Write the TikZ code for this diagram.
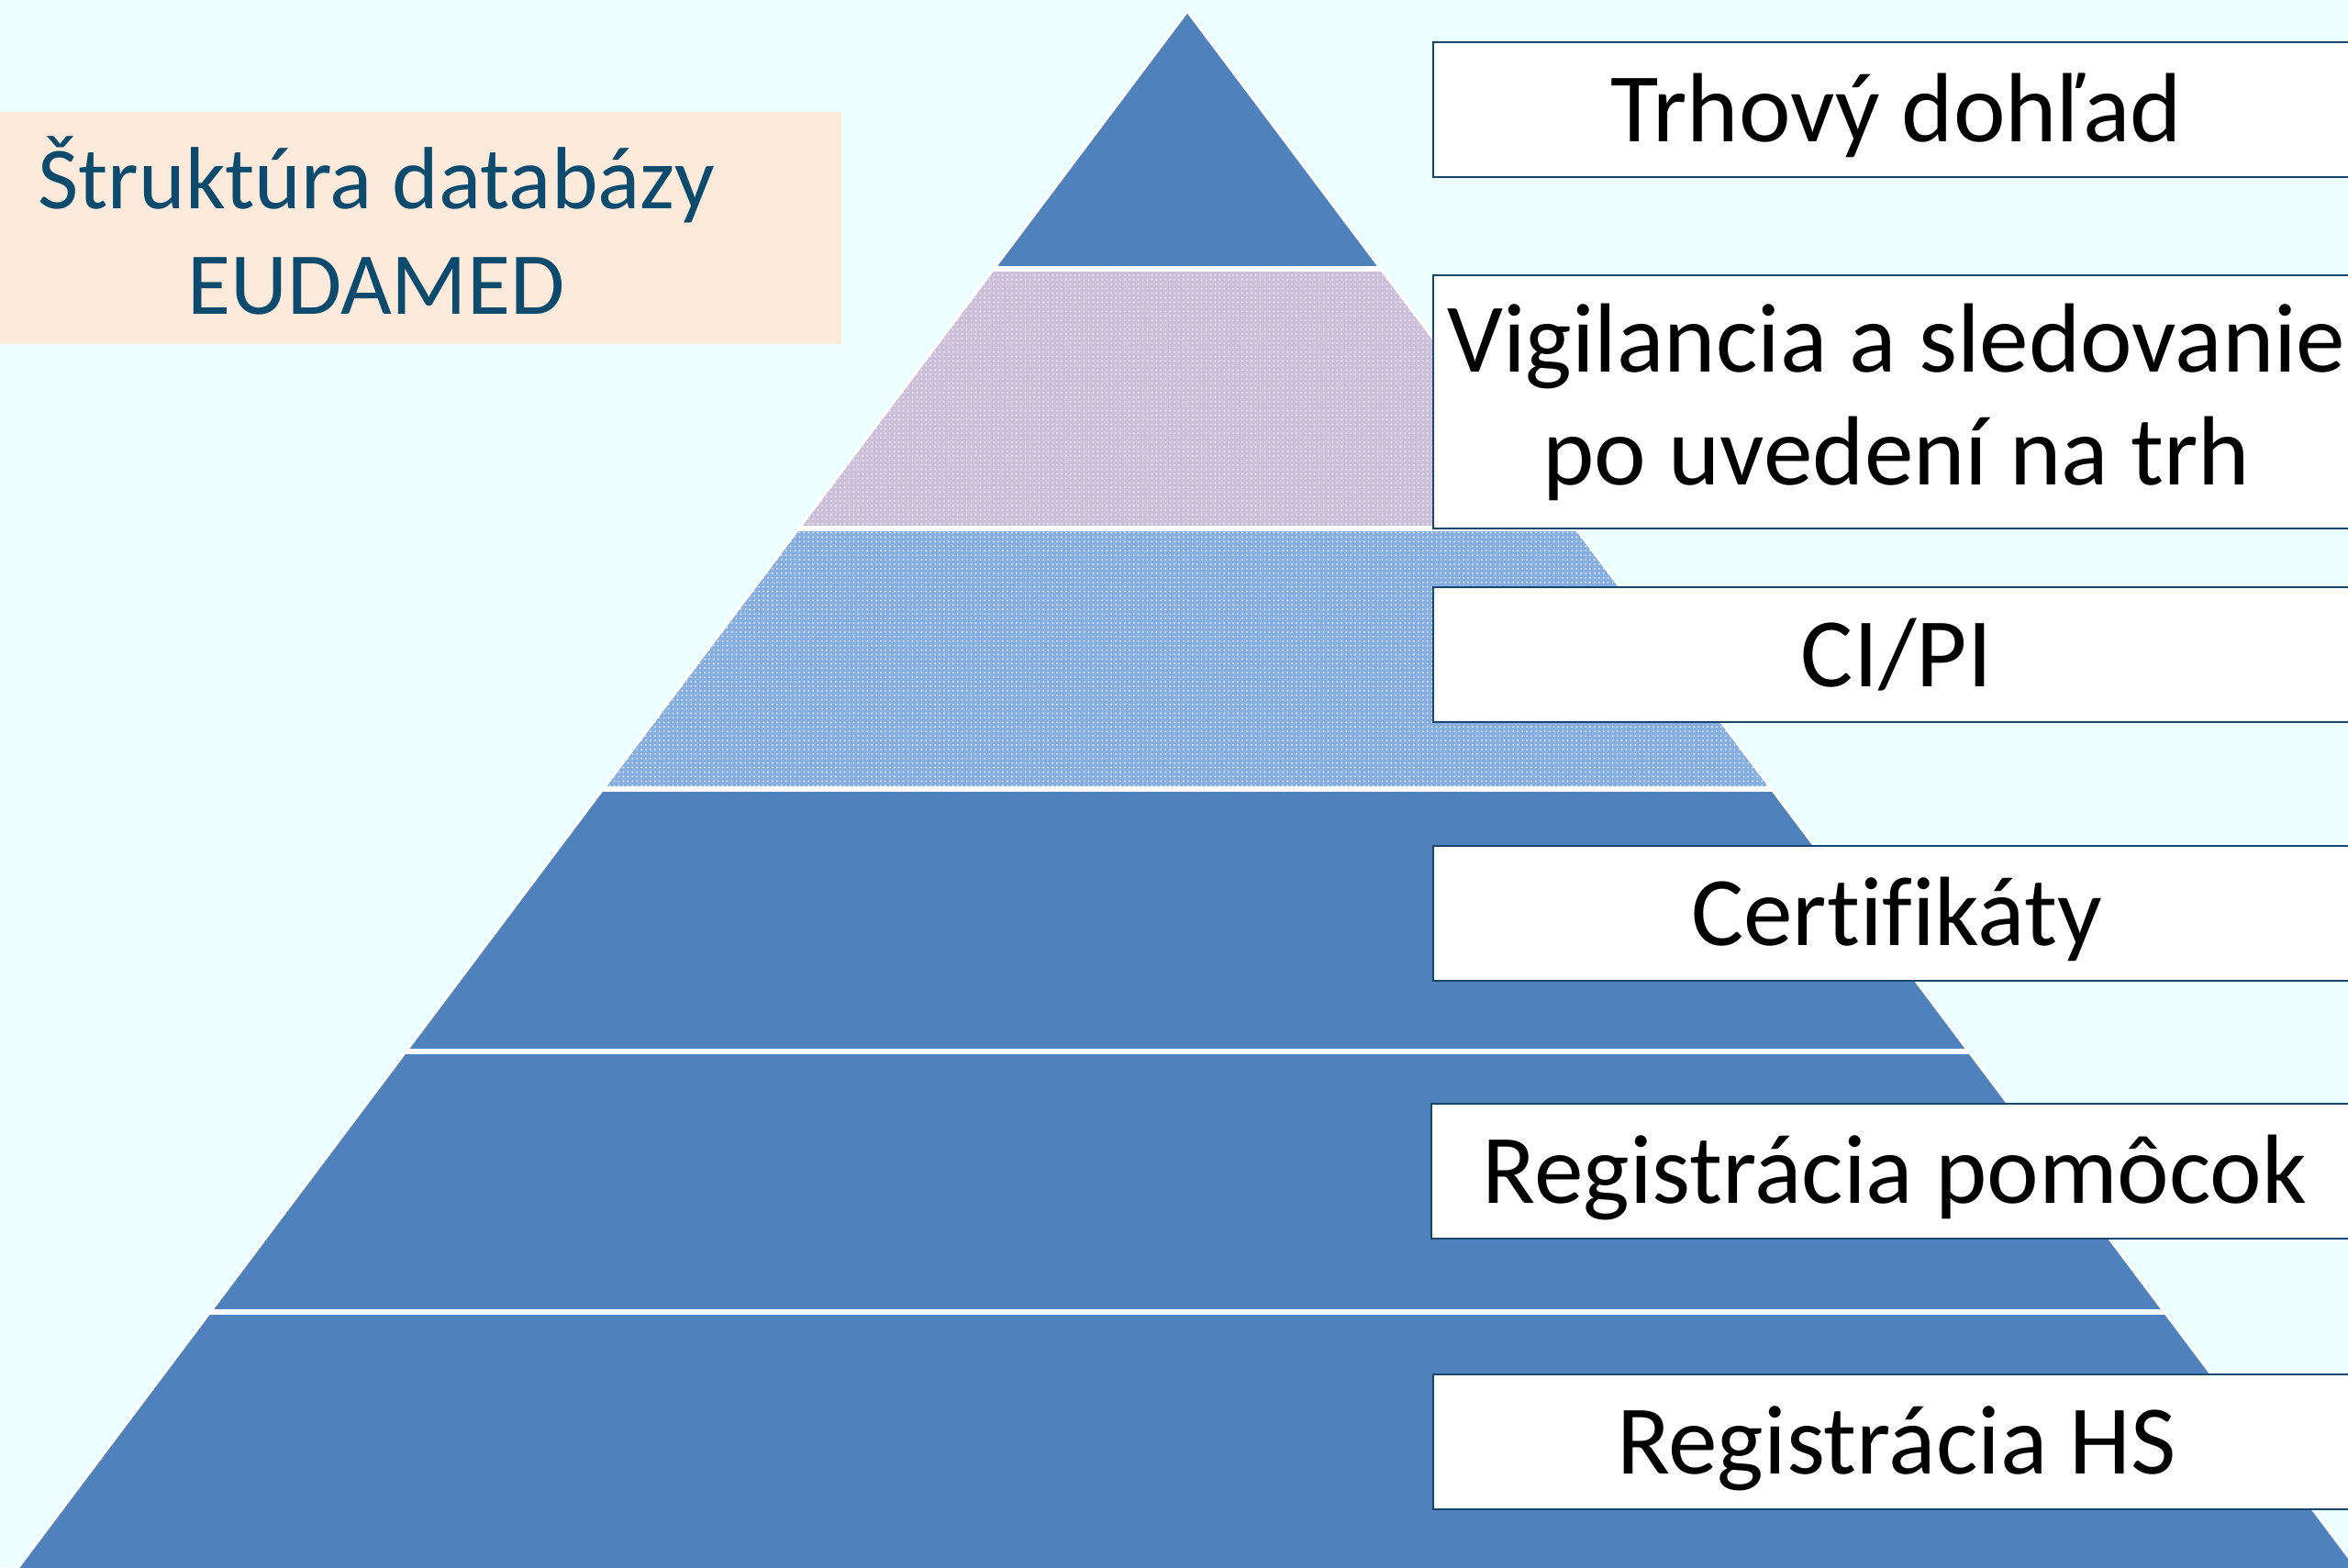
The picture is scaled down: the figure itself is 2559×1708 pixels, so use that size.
\documentclass[tikz,border=0pt]{standalone}
\usepackage{fontspec}
\setmainfont{Carlito}[Ligatures=CommonOff]
\usetikzlibrary{patterns.meta}
\definecolor{bg}{HTML}{EBFFFF}
\definecolor{pyr}{HTML}{4F81BD}
\definecolor{lilac}{HTML}{CBBFDA}
\definecolor{ltblue}{HTML}{86AEE0}
\definecolor{peach}{HTML}{FDEADA}
\definecolor{titlec}{HTML}{0C4A6E}
\definecolor{boxline}{HTML}{17456E}
\tikzdeclarepattern{name=finedots, type=uncolored,
  bounding box={(-0.7pt,-0.7pt) and (0.7pt,0.7pt)},
  tile size={(1.4pt,1.4pt)},
  code={\fill (0pt,0pt) circle (0.3pt);}}
\tikzset{
  lbl/.style={draw=boxline, line width=0.6pt, fill=white, minimum width=10.1cm,
    text=black, font=\fontsize{30.5}{35}\selectfont, align=center, inner sep=0pt},
  oneline/.style={lbl, minimum height=1.47cm, text height=20.1pt, text depth=0pt},
  sep/.style={white, line width=1.6pt},
  edge/.style={white, line width=0.9pt, line join=round}
}
\begin{document}
\begin{tikzpicture}[x=0.01cm, y=-0.01cm]
\fill[bg] (0,0) rectangle (2559,1708);
\useasboundingbox (0,0) rectangle (2559,1708);
% pyramid
\begin{scope}
  \clip (1294,12) -- (2577,1720) -- (11,1720) -- cycle;
  \fill[pyr] (0,0) rectangle (2600,293);
  \fill[lilac] (0,293) rectangle (2600,576);
  \fill[pattern=finedots, pattern color=white!60!lilac] (0,293) rectangle (2600,576);
  \fill[ltblue] (0,576) rectangle (2600,860);
  \fill[pattern=finedots, pattern color=white!75!ltblue] (0,576) rectangle (2600,860);
  \fill[pyr] (0,860) rectangle (2600,1720);
  \foreach \yy in {293,576,860,1146,1430} \draw[sep] (0,\yy) -- (2600,\yy);
\end{scope}
\draw[edge] (11,1720) -- (1294,12) -- (2577,1720);
% title
\fill[peach] (0,122) rectangle (917,375);
\node[text=titlec, font=\fontsize{27.4}{32.5}\selectfont, align=center, inner sep=0pt] (title) at (410,246) {Štruktúra databázy\\EUDAMED};
% labels
\node[oneline] (b1) at (2067,119.5) {Trhový dohľad};
\node[lbl, minimum height=2.75cm] (b2) at (2067,438) {Vigilancia a sledovanie\\po uvedení na trh};
\node[oneline] (b3) at (2067,713.5) {CI/PI};
\node[oneline] (b4) at (2067,995.5) {Certifikáty};
\node[oneline] (b5) at (2065,1276.5) {Registrácia pomôcok};
\node[oneline] (b6) at (2067,1571.5) {Registrácia HS};
\end{tikzpicture}
\end{document}
